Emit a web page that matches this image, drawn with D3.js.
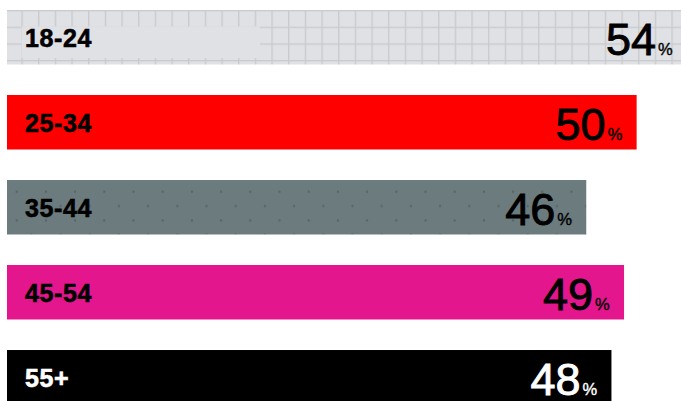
<!DOCTYPE html>
<html><head><meta charset="utf-8">
<script src="https://cdn.jsdelivr.net/npm/d3@7"></script>
<style>html,body{margin:0;padding:0;background:#fff;overflow:hidden}</style>
</head><body>
<div id="chart"></div>
<script>
const categories = ["18-24", "25-34", "35-44", "45-54", "55+"];
const values = [54, 50, 46, 49, 48];
const barColors = ["url(#grid)", "#ff0000", "url(#dots)", "#e3168d", "#000000"];
const textColors = ["#000", "#000", "#000", "#000", "#fff"];

const W = 681, H = 401;
const svg = d3.select("#chart").append("svg").attr("width", W).attr("height", H);
const defs = svg.append("defs");

// grid pattern (bar 1)
const g = 16.667;
const pg = defs.append("pattern").attr("id", "grid").attr("patternUnits", "userSpaceOnUse")
  .attr("x", 21.4).attr("y", 26.7).attr("width", g).attr("height", g);
pg.append("rect").attr("width", g).attr("height", g).attr("fill", "#e0e1e5");
pg.append("rect").attr("width", 1.3).attr("height", g).attr("fill", "#c9cace");
pg.append("rect").attr("width", g).attr("height", 1.3).attr("fill", "#c9cace");

// dots pattern (bar 3)
const dw = 29.2, dh = 28.7;
const pd = defs.append("pattern").attr("id", "dots").attr("patternUnits", "userSpaceOnUse")
  .attr("x", 16.7).attr("y", 191.7).attr("width", dw).attr("height", dh);
pd.append("rect").attr("width", dw).attr("height", dh).attr("fill", "#6b7b7e");
[[0,0],[dw,0],[0,dh],[dw,dh],[dw/2,dh/2]].forEach(([cx,cy]) =>
  pd.append("circle").attr("cx", cx).attr("cy", cy).attr("r", 1.2).attr("fill", "#56656a"));

const x = d3.scaleLinear().domain([0, d3.max(values)]).range([7, 687]);
const y = d3.scaleBand().domain(categories).range([10, 404.5]).paddingInner(0.359).paddingOuter(0);

const data = categories.map((c, i) => ({c, v: values[i], fill: barColors[i], tc: textColors[i], i}));

const rows = svg.selectAll("g.row").data(data).join("g").attr("class", "row");

rows.append("rect")
  .attr("x", x(0)).attr("y", d => y(d.c))
  .attr("width", d => x(d.v) - x(0)).attr("height", y.bandwidth())
  .attr("fill", d => d.fill);

// label backdrop on the grid bar
rows.filter(d => d.i === 0).append("rect")
  .attr("x", 21.5).attr("y", d => y(d.c) + 16.5)
  .attr("width", 238.5).attr("height", 31.5)
  .attr("fill", "#e0e1e5");

rows.append("text")
  .attr("x", 25).attr("y", d => y(d.c) + 37.3)
  .attr("font-family", "'Liberation Sans', Arial, sans-serif")
  .attr("font-weight", "bold").attr("font-size", 25)
  .attr("letter-spacing", 0.6)
  .attr("fill", d => d.tc)
  .attr("stroke", d => d.tc).attr("stroke-width", 0.6)
  .text(d => d.c);

const vt = rows.append("text")
  .attr("x", d => x(d.v) - 14.3).attr("y", d => y(d.c) + 45)
  .attr("text-anchor", "end")
  .attr("font-family", "'Liberation Sans', Arial, sans-serif")
  .attr("fill", d => d.tc)
  .attr("stroke", d => d.tc);
vt.append("tspan").attr("font-size", 45).attr("stroke-width", 0.9).text(d => d.v);
vt.append("tspan").attr("font-size", 16.5).attr("stroke-width", 0.4).attr("dx", 2).text("%");
</script>
</body></html>
